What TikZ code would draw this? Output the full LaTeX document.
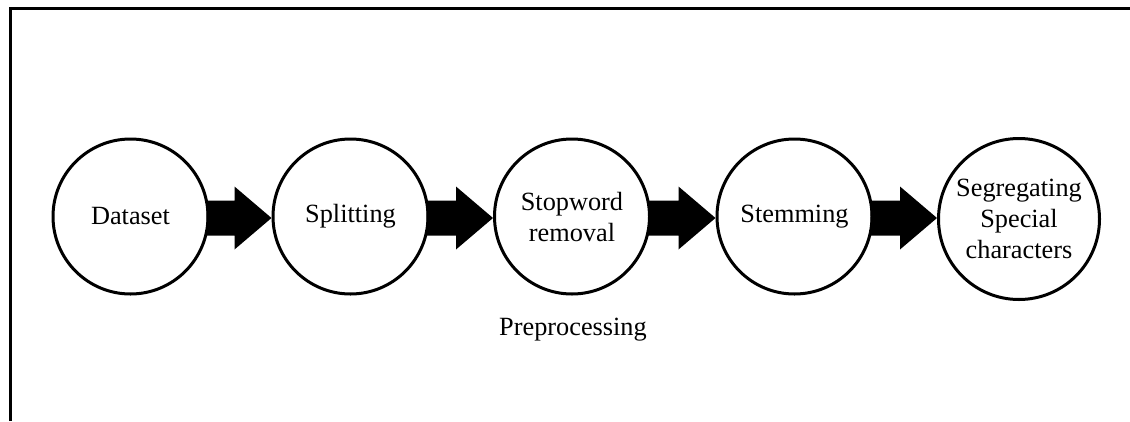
\documentclass[tikz,border=0pt]{standalone}
\usepackage{fontspec}
\setmainfont{Liberation Serif}
\usetikzlibrary{calc}
\tikzset{
  stage/.style={circle, draw, line width=3pt, minimum size=155pt, fill=white, inner sep=0pt,
    align=center, font=\fontsize{26.3}{31}\selectfont},
  frameline/.style={line width=3pt},
}
\newcommand{\blockarrow}[2]{%
  \coordinate (tipA) at ($(#2.west |- #1.east)+(0,1.5)$);
  \coordinate (startA) at ($(#1.east)+(-3,1.5)$);
  \fill ($(startA)+(0,-17.5)$) -- ($(tipA)+(-37,-17.5)$) -- ($(tipA)+(-37,-31.5)$)
    -- (tipA) -- ($(tipA)+(-37,31.5)$) -- ($(tipA)+(-37,17.5)$)
    -- ($(startA)+(0,17.5)$) -- cycle;}
\begin{document}
\begin{tikzpicture}[x=1pt,y=-1pt]
\useasboundingbox (0,0) rectangle (1130,421);
\draw[frameline] (10,421) -- (10,8.5) -- (1130,8.5);
\node[stage] (dataset) at (130.5,216.5) {Dataset};
\node[stage] (splitting) at (350.5,216.5) {Splitting};
\node[stage] (stopword) at (572,216.5) {Stopword\\removal};
\node[stage] (stemming) at (794.5,216.5) {Stemming};
\node[stage, minimum size=161pt] (segregating) at (1019,219) {Segregating\\Special\\characters};
\blockarrow{dataset}{splitting}
\blockarrow{splitting}{stopword}
\blockarrow{stopword}{stemming}
\blockarrow{stemming}{segregating}
\node[font=\fontsize{26.3}{31}\selectfont, anchor=base] (pre) at (573,335) {Preprocessing};
\end{tikzpicture}
\end{document}
